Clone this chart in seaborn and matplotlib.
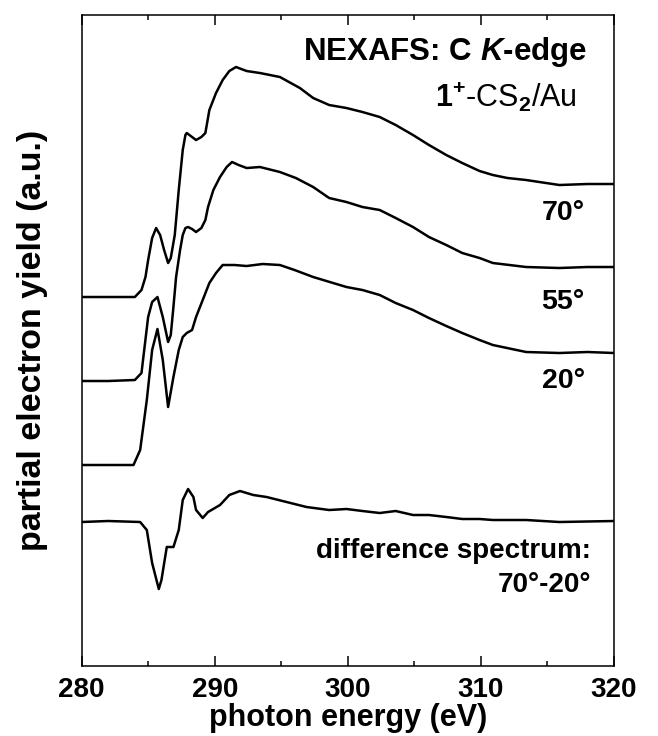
import numpy as np
import pandas as pd
import matplotlib
matplotlib.use("Agg")
import matplotlib.pyplot as plt
from matplotlib.ticker import MultipleLocator
import seaborn as sns

# spectra (photon energy in eV, partial electron yield in a.u., offset for display)
e_70 = [280.0, 282.0, 284.0, 284.5, 284.8, 285.0, 285.3, 285.6, 285.9, 286.2, 286.5, 286.7,
        287.0, 287.3, 287.6, 287.8, 287.9, 288.2, 288.6, 289.0, 289.3, 289.6, 290.1, 290.6,
        291.1, 291.6, 292.0, 292.4, 293.4, 294.9, 296.4, 297.4, 298.6, 299.9, 301.1, 302.4,
        303.6, 304.9, 306.1, 307.4, 308.6, 309.9, 310.9, 312.0, 313.4, 315.9, 318.0, 320.0]
y_70 = [3.69, 3.69, 3.69, 3.76, 3.89, 4.06, 4.28, 4.38, 4.31, 4.16, 4.03, 4.08,
        4.31, 4.76, 5.16, 5.31, 5.33, 5.30, 5.26, 5.29, 5.33, 5.56, 5.73, 5.86,
        5.95, 5.99, 5.97, 5.95, 5.93, 5.89, 5.78, 5.68, 5.61, 5.58, 5.54, 5.49,
        5.41, 5.31, 5.21, 5.11, 5.03, 4.95, 4.91, 4.88, 4.86, 4.81, 4.82, 4.82]

e_55 = [280.0, 282.0, 284.0, 284.5, 285.0, 285.3, 285.7, 286.1, 286.5, 286.7, 286.9, 287.1,
        287.4, 287.6, 287.8, 288.0, 288.3, 288.6, 289.0, 289.3, 289.5, 289.9, 290.4, 290.9,
        291.3, 291.8, 292.4, 293.4, 294.9, 296.1, 297.4, 298.6, 299.9, 301.1, 302.4, 303.6,
        304.9, 306.1, 307.4, 308.6, 309.9, 310.9, 313.4, 315.9, 318.0, 320.0]
y_55 = [2.85, 2.85, 2.86, 2.93, 3.49, 3.64, 3.69, 3.49, 3.24, 3.31, 3.59, 3.89,
        4.16, 4.31, 4.38, 4.39, 4.37, 4.34, 4.38, 4.46, 4.59, 4.76, 4.89, 4.99,
        5.04, 5.01, 4.98, 4.99, 4.94, 4.88, 4.79, 4.68, 4.64, 4.59, 4.56, 4.48,
        4.39, 4.29, 4.21, 4.13, 4.08, 4.03, 3.99, 3.98, 3.99, 3.99]

e_20 = [280.0, 282.0, 283.9, 284.4, 284.9, 285.3, 285.7, 286.1, 286.5, 286.9, 287.3, 287.6,
        287.9, 288.3, 288.6, 289.1, 289.6, 290.1, 290.6, 291.5, 292.4, 293.6, 294.9, 296.0,
        297.4, 299.9, 301.1, 302.4, 303.6, 304.9, 306.1, 307.4, 308.6, 309.9, 310.9, 313.4,
        315.9, 318.0, 320.0]
y_20 = [2.01, 2.01, 2.01, 2.16, 2.66, 3.16, 3.37, 3.06, 2.59, 2.89, 3.16, 3.29,
        3.33, 3.36, 3.49, 3.66, 3.83, 3.93, 4.01, 4.01, 4.00, 4.02, 4.01, 3.96,
        3.89, 3.79, 3.76, 3.71, 3.63, 3.56, 3.48, 3.40, 3.33, 3.26, 3.21, 3.14,
        3.13, 3.14, 3.13]

e_diff = [280.0, 282.0, 284.4, 284.9, 285.3, 285.8, 286.0, 286.4, 286.9, 287.3, 287.6, 288.0,
          288.4, 288.6, 289.1, 289.5, 290.4, 291.1, 291.9, 292.9, 293.9, 295.4, 296.9, 298.6,
          299.9, 301.1, 302.4, 303.6, 304.9, 306.1, 307.4, 308.6, 309.9, 310.9, 313.4, 315.9,
          320.0]
y_diff = [1.44, 1.45, 1.44, 1.36, 1.03, 0.77, 0.86, 1.19, 1.19, 1.36, 1.66, 1.77,
          1.69, 1.56, 1.48, 1.54, 1.61, 1.71, 1.75, 1.71, 1.69, 1.64, 1.59, 1.56,
          1.57, 1.55, 1.53, 1.55, 1.51, 1.51, 1.49, 1.47, 1.47, 1.46, 1.46, 1.44,
          1.45]

spectra = {"70": (e_70, y_70), "55": (e_55, y_55), "20": (e_20, y_20), "diff": (e_diff, y_diff)}
frames = []
for name, (e, y) in spectra.items():
    frames.append(pd.DataFrame({"energy": e, "pey": y, "spectrum": name}))
df = pd.concat(frames, ignore_index=True)

sns.set_theme(style="ticks")
plt.rcParams["font.family"] = ["Liberation Sans", "DejaVu Sans"]
plt.rcParams["font.weight"] = "bold"
plt.rcParams["text.color"] = "black"
plt.rcParams["axes.labelcolor"] = "black"
plt.rcParams["xtick.color"] = "black"
plt.rcParams["xtick.labelcolor"] = "black"
plt.rcParams["mathtext.fontset"] = "custom"
plt.rcParams["mathtext.rm"] = "Liberation Sans"
plt.rcParams["mathtext.bf"] = "Liberation Sans:bold"
plt.rcParams["mathtext.it"] = "Liberation Sans:italic"
plt.rcParams["mathtext.bfit"] = "Liberation Sans:italic:bold"

fig = plt.figure(figsize=(6.58, 7.36), dpi=100)
ax = fig.add_axes([0.124, 0.0951, 0.8091, 0.8845])

sns.lineplot(data=df, x="energy", y="pey", hue="spectrum", units="spectrum",
             palette=["black"] * 4, estimator=None, sort=False, legend=False,
             linewidth=1.8, ax=ax)

ax.set_xlim(280, 320)
ax.set_ylim(0, 6.51)
ax.xaxis.set_major_locator(MultipleLocator(10))
ax.xaxis.set_minor_locator(MultipleLocator(5))
ax.set_yticks([])
ax.tick_params(axis="x", which="both", direction="in", top=True, bottom=True,
               width=1.1, color="black", labelcolor="black", labelsize=20, pad=8)
ax.tick_params(axis="x", which="major", length=7.2)
ax.tick_params(axis="x", which="minor", length=3.6)
for s in ax.spines.values():
    s.set_visible(True)
    s.set_linewidth(1.1)
    s.set_color("black")

ax.set_xlabel("photon energy (eV)", fontsize=22, fontweight="bold", labelpad=0, color="black")
ax.set_ylabel("partial electron yield (a.u.)", fontsize=24.5, fontweight="bold", labelpad=24,
              color="black")

ax.text(318.0, 6.06, r"NEXAFS: C $\mathbfit{K}$-edge", ha="right", va="baseline",
        fontsize=22.5, fontweight="bold", color="black")
ax.text(317.2, 5.59, r"$\mathbf{1}^{\mathbf{+}}$-CS$_2$/Au", ha="right", va="baseline",
        fontsize=22, fontweight="normal", color="black")
for label, yb in [("70°", 4.46), ("55°", 3.57), ("20°", 2.78)]:
    ax.text(317.8, yb, label, ha="right", va="baseline", fontsize=20.5,
            fontweight="bold", color="black")
ax.text(318.3, 1.08, "difference spectrum:", ha="right", va="baseline", fontsize=20,
        fontweight="bold", color="black")
ax.text(318.3, 0.74, "70°-20°", ha="right", va="baseline", fontsize=20,
        fontweight="bold", color="black")

fig.savefig("out.png", dpi=100)
